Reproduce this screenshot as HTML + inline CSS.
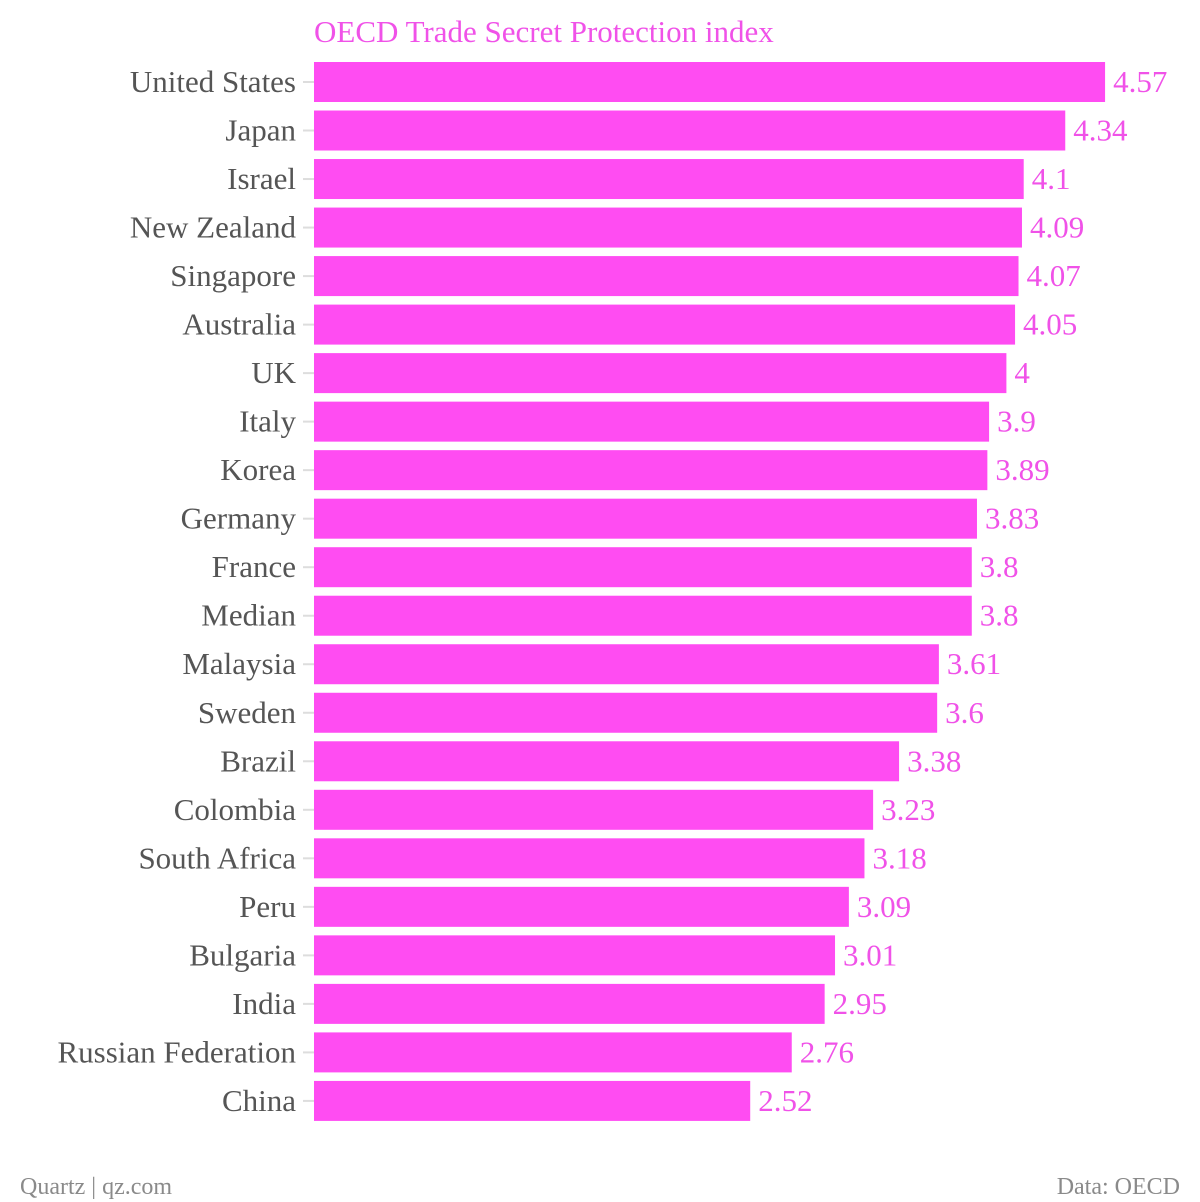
<!DOCTYPE html>
<html><head><meta charset="utf-8"><style>
html,body{margin:0;padding:0;background:#fff;width:1200px;height:1202px;overflow:hidden}
svg{display:block;font-family:"Liberation Serif",serif}
</style></head><body>
<svg id="chart" width="1200" height="1202">
<text x="314" y="42" font-size="31" fill="#f052e8">OECD Trade Secret Protection index</text>
<g id="bars"></g>
<text x="20" y="1194" font-size="24" fill="#8a8a8a">Quartz | qz.com</text>
<text x="1180" y="1194" font-size="24" fill="#8a8a8a" text-anchor="end">Data: OECD</text>
</svg>
<script>
const categories = ["United States","Japan","Israel","New Zealand","Singapore","Australia","UK","Italy","Korea","Germany","France","Median","Malaysia","Sweden","Brazil","Colombia","South Africa","Peru","Bulgaria","India","Russian Federation","China"];
const values = [4.57,4.34,4.1,4.09,4.07,4.05,4,3.9,3.89,3.83,3.8,3.8,3.61,3.6,3.38,3.23,3.18,3.09,3.01,2.95,2.76,2.52];
const valueLabels = ["4.57","4.34","4.1","4.09","4.07","4.05","4","3.9","3.89","3.83","3.8","3.8","3.61","3.6","3.38","3.23","3.18","3.09","3.01","2.95","2.76","2.52"];

const NS="http://www.w3.org/2000/svg";
const x0=314, pxPerUnit=173.1, top0=62, pitch=48.52, barH=40;
const xScale=v=>x0+v*pxPerUnit;
const yScale=i=>top0+i*pitch;
const g=document.getElementById('bars');
function mk(tag,attrs){const e=document.createElementNS(NS,tag);for(const k in attrs)e.setAttribute(k,attrs[k]);return e;}
categories.forEach((c,i)=>{
  const y=yScale(i), cy=y+barH/2;
  const t=mk('line',{x1:303,x2:314,y1:cy,y2:cy,stroke:'#ddd','stroke-width':2});
  
  
  g.appendChild(t);
  const lab=mk('text',{x:296,y:cy+10,'font-size':31,fill:'#555','text-anchor':'end'});
  lab.textContent=c;
  
  
  g.appendChild(lab);
  const w=xScale(values[i])-x0;
  const r=mk('rect',{x:x0,y:y,width:w,height:barH,fill:'#ff4cf2'});
  
  
  g.appendChild(r);
  const v=mk('text',{x:xScale(values[i])+8,y:cy+10,'font-size':31,fill:'#f052e8'});
  v.textContent=valueLabels[i];
  
  
  g.appendChild(v);
});
</script>
</body></html>
